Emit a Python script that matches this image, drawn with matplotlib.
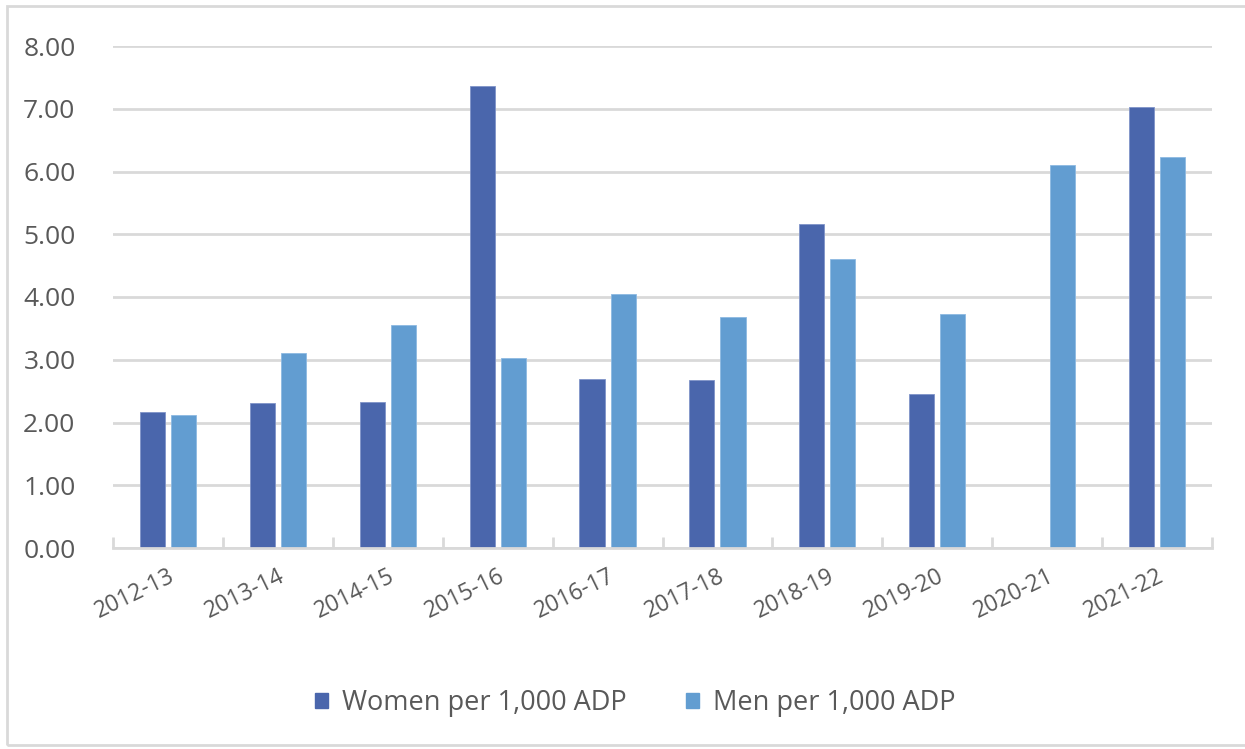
import matplotlib
matplotlib.use("Agg")
import matplotlib.pyplot as plt
from matplotlib.patches import Rectangle, Patch
import numpy as np

years = ["2012-13", "2013-14", "2014-15", "2015-16", "2016-17",
         "2017-18", "2018-19", "2019-20", "2020-21", "2021-22"]
women = [2.17, 2.31, 2.33, 7.37, 2.70, 2.68, 5.17, 2.46, 0.0, 7.02]
men = [2.12, 3.10, 3.55, 3.02, 4.04, 3.68, 4.60, 3.73, 6.10, 6.23]
y_ticks = [0, 1, 2, 3, 4, 5, 6, 7, 8]
series_labels = ["Women per 1,000 ADP", "Men per 1,000 ADP"]

women_color = "#4A66AC"
men_color = "#629DD1"
grid_color = "#D9D9D9"
text_color = "#595959"

plt.rcParams["font.family"] = ["Open Sans", "DejaVu Sans"]

W, H = 1245, 749
fig = plt.figure(figsize=(W / 100, H / 100), dpi=100)
fig.patch.set_facecolor("white")

# outer chart frame
fig.add_artist(Rectangle((7 / W, 1 - 745 / H), (1250 - 7) / W, (745 - 6) / H,
                         transform=fig.transFigure, fill=False,
                         edgecolor="#D9D9D9", linewidth=2))

ax = fig.add_axes([113 / W, 1 - 548 / H, (1212 - 113) / W, (548 - 46) / H])

x = np.arange(len(years))
bw = 0.228
gap = 0.055
ax.bar(x - (bw + gap) / 2, women, width=bw, color=women_color,
       edgecolor="#7F93C8", linewidth=0.6, zorder=3)
ax.bar(x + (bw + gap) / 2, men, width=bw, color=men_color,
       edgecolor="#8DB9E2", linewidth=0.6, zorder=3)

ax.set_xlim(-0.5, len(years) - 0.5)
ax.set_ylim(0, 8)
ax.set_yticks(y_ticks)
ax.set_yticklabels([f"{v:.2f}" for v in y_ticks])
ax.yaxis.grid(True, color=grid_color, linewidth=2, zorder=0)
ax.set_axisbelow(True)

for s in ["top", "right", "left"]:
    ax.spines[s].set_visible(False)
ax.spines["bottom"].set_color(grid_color)
ax.spines["bottom"].set_linewidth(2)
ax.spines["bottom"].set_zorder(4)

ax.tick_params(axis="y", length=0, pad=27, labelsize=19, labelcolor=text_color)

# category boundary ticks on the baseline
ax.set_xticks(np.arange(-0.5, len(years) + 0.5, 1.0))
ax.set_xticklabels([])
ax.tick_params(axis="x", which="major", direction="in", length=8, width=2,
               color=grid_color)
ax.set_xticks(x, minor=True)
ax.set_xticklabels(years, minor=True, rotation=26, ha="right",
                   rotation_mode="anchor", fontsize=16.5, color=text_color)
ax.tick_params(axis="x", which="minor", length=0, pad=12)

handles = [Patch(facecolor=women_color, edgecolor=women_color),
           Patch(facecolor=men_color, edgecolor=men_color)]
fig.legend(handles, series_labels, loc="center", bbox_to_anchor=(0.51, 1 - 703 / H),
           ncol=2, frameon=False, fontsize=19.5, labelcolor=text_color,
           handlelength=0.5, handleheight=0.5, handletextpad=0.5, columnspacing=2.2)

fig.savefig("out.png", dpi=100, facecolor="white")
